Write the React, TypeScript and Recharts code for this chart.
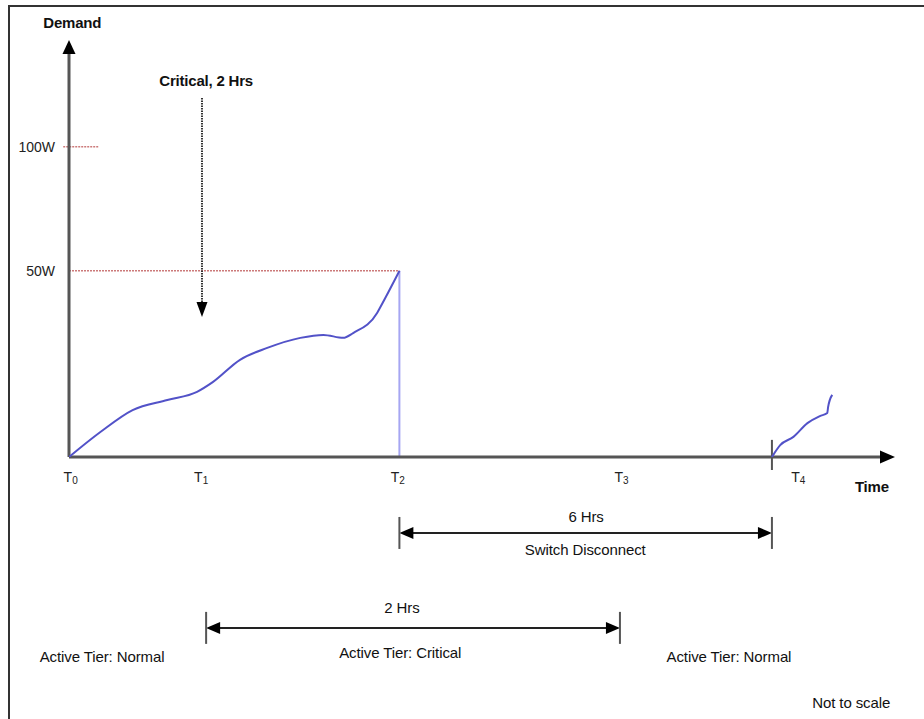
import React from "react";
import {
  ComposedChart,
  Line,
  XAxis,
  YAxis,
  ReferenceLine,
  ReferenceDot,
} from "recharts";

// demand curve up to T2 (time in arbitrary units, demand in W-ish units, not to scale)
const curveCritical = [
  { t: 0, d: 0 },
  { t: 3.8, d: 6.7 },
  { t: 7.7, d: 12.6 },
  { t: 11.9, d: 15.3 },
  { t: 15.5, d: 17.5 },
  { t: 17.4, d: 20.1 },
  { t: 20.7, d: 26.1 },
  { t: 24.0, d: 29.3 },
  { t: 28.0, d: 32.0 },
  { t: 30.8, d: 32.8 },
  { t: 33.2, d: 32.0 },
  { t: 34.4, d: 33.3 },
  { t: 37.3, d: 38.7 },
  { t: 37.7, d: 40.3 },
  { t: 40, d: 50 },
];

// demand after reconnect at T4
const curveReconnect = [
  { t: 85.1, d: 0 },
  { t: 86.1, d: 3.2 },
  { t: 87.7, d: 5.4 },
  { t: 89.4, d: 9.1 },
  { t: 90.9, d: 11.0 },
  { t: 91.8, d: 11.8 },
  { t: 91.9, d: 13.4 },
  { t: 92.4, d: 16.7 },
];

const timeTicks = [0.2, 16.0, 39.8, 66.9, 88.3];
const timeSubs = ["0", "1", "2", "3", "4"];
const demandTicks = [50, 83.3];
const demandLabels = ["50W", "100W"];

const T1 = 16.1;
const T2 = 40;
const T3 = 66.7;
const T4 = 85.1;
const LIMIT = 50;

const FONT = "'Liberation Sans', Arial, sans-serif";

// text annotations: [t, d, text, bold]
const notes: [number, number, string, boolean][] = [
  [0.4, 115.2, "Demand", true],
  [16.6, 99.7, "Critical, 2 Hrs", true],
  [97.2, -9.4, "Time", true],
  [62.6, -17.5, "6 Hrs", false],
  [62.5, -26.3, "Switch Disconnect", false],
  [40.3, -41.9, "2 Hrs", false],
  [40.1, -54.0, "Active Tier: Critical", false],
  [4.0, -55.1, "Active Tier: Normal", false],
  [79.9, -55.1, "Active Tier: Normal", false],
  [94.7, -67.4, "Not to scale", false],
];

type ArrowOpts = {
  start?: boolean;
  end?: boolean;
  head: number;
  width: number;
  stroke: string;
  sw: number;
  dash?: string;
  bar?: number;
};

const arrowShape = (o: ArrowOpts) => (p: any) => {
  const { x1, y1, x2, y2 } = p;
  const dx = x2 - x1;
  const dy = y2 - y1;
  const len = Math.hypot(dx, dy) || 1;
  const ux = dx / len;
  const uy = dy / len;
  const nx = -uy;
  const ny = ux;
  const w = o.width / 2;
  const head = (tx: number, ty: number, s: number) => {
    const bx = tx - s * ux * o.head;
    const by = ty - s * uy * o.head;
    return `${tx},${ty} ${bx + nx * w},${by + ny * w} ${bx - nx * w},${by - ny * w}`;
  };
  const sx = o.start ? x1 + ux * (o.head - 1) : x1;
  const sy = o.start ? y1 + uy * (o.head - 1) : y1;
  const ex = o.end ? x2 - ux * (o.head - 1) : x2;
  const ey = o.end ? y2 - uy * (o.head - 1) : y2;
  return (
    <g>
      <line x1={sx} y1={sy} x2={ex} y2={ey} stroke={o.stroke} strokeWidth={o.sw} strokeDasharray={o.dash} />
      {o.start && <polygon points={head(x1, y1, -1)} fill="#000" />}
      {o.end && <polygon points={head(x2, y2, 1)} fill="#000" />}
      {o.bar && (
        <g stroke="#555" strokeWidth={2}>
          <line x1={x1 + nx * o.bar / 2} y1={y1 + ny * o.bar / 2} x2={x1 - nx * o.bar / 2} y2={y1 - ny * o.bar / 2} />
          <line x1={x2 + nx * o.bar / 2} y1={y2 + ny * o.bar / 2} x2={x2 - nx * o.bar / 2} y2={y2 - ny * o.bar / 2} />
        </g>
      )}
    </g>
  );
};

const TimeTick = (props: any) => {
  const { x, y, index } = props;
  return (
    <text x={x} y={y} dy={25} textAnchor="middle" fontFamily={FONT} fontSize={14} fill="#222">
      <tspan>T</tspan>
      <tspan fontSize={10} dy={2}>
        {timeSubs[index]}
      </tspan>
    </text>
  );
};

const DemandTick = (props: any) => {
  const { x, y, index } = props;
  return (
    <text x={x - 14} y={y} dy={5} textAnchor="end" fontFamily={FONT} fontSize={14} fill="#222">
      {demandLabels[index]}
    </text>
  );
};

const noteShape = (text: string, bold: boolean) => (p: any) => (
  <text
    x={p.cx}
    y={p.cy}
    textAnchor="middle"
    fontFamily={FONT}
    fontSize={15}
    fontWeight={bold ? "bold" : "normal"}
    fill="#111"
    letterSpacing={bold ? -0.2 : -0.1}
  >
    {text}
  </text>
);

export default function App() {
  return (
    <div style={{ position: "absolute", left: 0, top: 0, width: 924, height: 719, background: "#fff" }}>
      <div
        style={{
          position: "absolute",
          left: 8,
          top: 5,
          right: 0,
          bottom: 0,
          borderTop: "2px solid #333",
          borderLeft: "2px solid #333",
        }}
      />
      <div style={{ position: "absolute", left: 0, top: 0 }}>
        <ComposedChart width={924} height={719} margin={{ top: 40, right: 29, bottom: 232, left: 9 }}>
          <XAxis
            type="number"
            dataKey="t"
            domain={[0, 100]}
            allowDataOverflow
            ticks={timeTicks}
            interval={0}
            axisLine={false}
            tickLine={false}
            tickSize={0}
            tickMargin={0}
            height={30}
            tick={<TimeTick />}
          />
          <YAxis
            type="number"
            domain={[0, 112]}
            allowDataOverflow
            ticks={demandTicks}
            interval={0}
            axisLine={false}
            tickLine={false}
            tickSize={0}
            tickMargin={0}
            width={60}
            tick={<DemandTick />}
          />
          {/* threshold guides */}
          <ReferenceLine
            segment={[{ x: 0, y: LIMIT }, { x: T2, y: LIMIT }]}
            stroke="#cc7a7a"
            strokeWidth={1.5}
            strokeDasharray="2 1"
            ifOverflow="visible"
          />
          <ReferenceLine
            segment={[{ x: -0.7, y: demandTicks[1] }, { x: 3.6, y: demandTicks[1] }]}
            stroke="#cc7a7a"
            strokeWidth={1.5}
            strokeDasharray="2 1"
            ifOverflow="visible"
          />
          {/* drop at T2 */}
          <ReferenceLine
            segment={[{ x: T2, y: 0 }, { x: T2, y: LIMIT }]}
            stroke="#a6a6f2"
            strokeWidth={2}
            ifOverflow="visible"
          />
          {/* axes */}
          <ReferenceLine
            segment={[{ x: 0, y: 0 }, { x: 0, y: 112 }]}
            ifOverflow="visible"
            shape={arrowShape({ end: true, head: 14, width: 13, stroke: "#555", sw: 3 })}
          />
          <ReferenceLine
            segment={[{ x: 0, y: 0 }, { x: 100, y: 0 }]}
            ifOverflow="visible"
            shape={arrowShape({ end: true, head: 15, width: 13, stroke: "#555", sw: 3 })}
          />
          <ReferenceLine
            segment={[{ x: T4, y: 4.6 }, { x: T4, y: -3.5 }]}
            stroke="#555"
            strokeWidth={2}
            ifOverflow="visible"
          />
          {/* critical event arrow */}
          <ReferenceLine
            segment={[{ x: T1, y: 96.4 }, { x: T1, y: 37.6 }]}
            ifOverflow="visible"
            shape={arrowShape({ end: true, head: 15, width: 11, stroke: "#333", sw: 2, dash: "1.5 1" })}
          />
          {/* duration arrows */}
          <ReferenceLine
            segment={[{ x: T2, y: -20.4 }, { x: T4, y: -20.4 }]}
            ifOverflow="visible"
            shape={arrowShape({ start: true, end: true, head: 14, width: 12, stroke: "#222", sw: 2, bar: 32 })}
          />
          <ReferenceLine
            segment={[{ x: 16.6, y: -45.9 }, { x: T3, y: -45.9 }]}
            ifOverflow="visible"
            shape={arrowShape({ start: true, end: true, head: 14, width: 12, stroke: "#222", sw: 2, bar: 32 })}
          />
          <Line
            data={curveCritical}
            dataKey="d"
            type="monotone"
            stroke="#5252c8"
            strokeWidth={2}
            dot={false}
            isAnimationActive={false}
          />
          <Line
            data={curveReconnect}
            dataKey="d"
            type="monotone"
            stroke="#5252c8"
            strokeWidth={2}
            dot={false}
            isAnimationActive={false}
          />
          {notes.map(([t, d, text, bold], i) => (
            <ReferenceDot key={i} x={t} y={d} r={0} ifOverflow="visible" shape={noteShape(text, bold)} />
          ))}
        </ComposedChart>
      </div>
    </div>
  );
}
